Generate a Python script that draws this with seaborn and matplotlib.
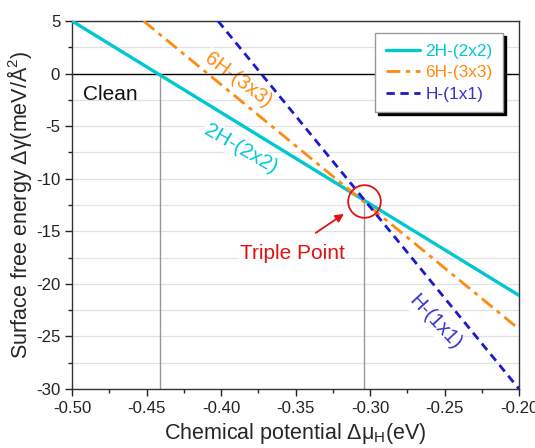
import numpy as np
import pandas as pd
import matplotlib
matplotlib.use("Agg")
import matplotlib.pyplot as plt
import seaborn as sns
from matplotlib.lines import Line2D

# phase lines (end points)
mu_2h = [-0.50, -0.20]
gamma_2h = [5.0, -21.1]
mu_6h = [-0.452, -0.20]
gamma_6h = [5.0, -24.3]
mu_1x1 = [-0.402, -0.20]
gamma_1x1 = [5.0, -30.0]
phases = ["2H-(2x2)", "6H-(3x3)", "H-(1x1)"]
colors = ["#00c8d2", "#ff8a10", "#1a1acc"]

# markers on the chart
mu_clean = -0.441
triple_mu = -0.304
triple_gamma = -12.1

df = pd.concat([
    pd.DataFrame({"mu": mu_2h, "gamma": gamma_2h, "phase": phases[0]}),
    pd.DataFrame({"mu": mu_6h, "gamma": gamma_6h, "phase": phases[1]}),
    pd.DataFrame({"mu": mu_1x1, "gamma": gamma_1x1, "phase": phases[2]}),
])

sns.set_style("ticks")
plt.rcParams["font.family"] = ["Liberation Sans", "DejaVu Sans"]
plt.rcParams["mathtext.default"] = "regular"
plt.rcParams["axes.unicode_minus"] = False

fig = plt.figure(figsize=(5.35, 4.48), dpi=100)
ax = fig.add_axes([0.1346, 0.1317, 0.8356, 0.8214])

palette = dict(zip(phases, colors))
dashes = {phases[0]: "", phases[1]: (5, 2, 1.5, 2), phases[2]: (3, 2)}
sns.lineplot(data=df, x="mu", y="gamma", hue="phase", style="phase",
             palette=palette, dashes=dashes, linewidth=2, ax=ax,
             legend=False, zorder=3)
for l in ax.lines:
    if l.get_color() == colors[0]:
        l.set_linewidth(2.4)

ax.axhline(0, color="black", lw=1, zorder=2)
ax.vlines(mu_clean, -30, 0, color="#999999", lw=1, zorder=1)
ax.vlines(triple_mu, -30, triple_gamma, color="#999999", lw=1, zorder=1)

ax.set_xlim(-0.5, -0.2)
ax.set_ylim(-30, 5)
xt = np.arange(-0.5, -0.199, 0.05)
ax.set_xticks(xt)
ax.set_xticks(np.arange(-0.5, -0.199, 0.025), minor=True)
ax.set_yticks(np.arange(-30, 5.1, 5))
ax.set_yticks(np.arange(-30, 5.1, 2.5), minor=True)
ax.set_xticklabels(["%.2f" % v for v in xt])
ax.tick_params(axis="both", which="major", labelsize=12.1, direction="out",
               length=5, width=1, colors="#222222")
ax.tick_params(axis="both", which="minor", direction="out", length=3, width=1)
ax.grid(axis="y", which="both", color="#e2e2e2", lw=0.9)
ax.set_axisbelow(True)
for s in ax.spines.values():
    s.set_color("#333333")
    s.set_linewidth(1)

ax.set_xlabel("Chemical potential Δμ$_{H}$(eV)", fontsize=15.5, labelpad=4)
ax.set_ylabel("Surface free energy Δγ(meV/Å$^{2}$)", fontsize=15.5, labelpad=1.5)

bb = dict(facecolor="white", edgecolor="none", pad=1)
ax.text(-0.4926, -1.95, "Clean", fontsize=15, color="#111111", va="center",
        ha="left", zorder=1.5)
ax.text(-0.3885, -0.6, "6H-(3x3)", fontsize=14.6, color=colors[1], rotation=-37,
        ha="center", va="center", rotation_mode="anchor", bbox=bb, zorder=1.5)
ax.text(-0.387, -7.2, "2H-(2x2)", fontsize=15, color=colors[0], rotation=-30,
        ha="center", va="center", rotation_mode="anchor", bbox=bb, zorder=1.5)
ax.text(-0.2565, -23.6, "H-(1x1)", fontsize=14.6, color="#3333cc", rotation=-47,
        ha="center", va="center", rotation_mode="anchor", bbox=bb, zorder=1.5)

red = "#e41010"
ax.plot(triple_mu, triple_gamma, marker="o", ms=23.5, mfc="none", mec=red,
        mew=1.3, zorder=4)
ax.annotate("", xy=(-0.316, -13.2), xytext=(-0.338, -15.3),
            arrowprops=dict(arrowstyle="-|>", color=red, lw=1.3,
                            mutation_scale=12), zorder=4)
ax.text(-0.352, -17.1, "Triple Point", fontsize=15, color=red, ha="center",
        va="center", bbox=bb, zorder=1.5)

handles = [Line2D([], [], color=colors[0], lw=2.4),
           Line2D([], [], color=colors[1], lw=2, dashes=(5, 2, 1.5, 2)),
           Line2D([], [], color=colors[2], lw=2, dashes=(3, 2))]
leg = ax.legend(handles, phases, loc="upper right",
                bbox_to_anchor=(0.964, 0.967), borderaxespad=0,
                fontsize=12.4, fancybox=False, framealpha=1,
                edgecolor="#999999", handlelength=2.0,
                shadow={"color": "black", "alpha": 1},
                labelspacing=0.38, borderpad=0.6, handletextpad=0.3)
for t, c in zip(leg.get_texts(), [colors[0], colors[1], "#3333cc"]):
    t.set_color(c)

fig.savefig("out.png", dpi=100)
